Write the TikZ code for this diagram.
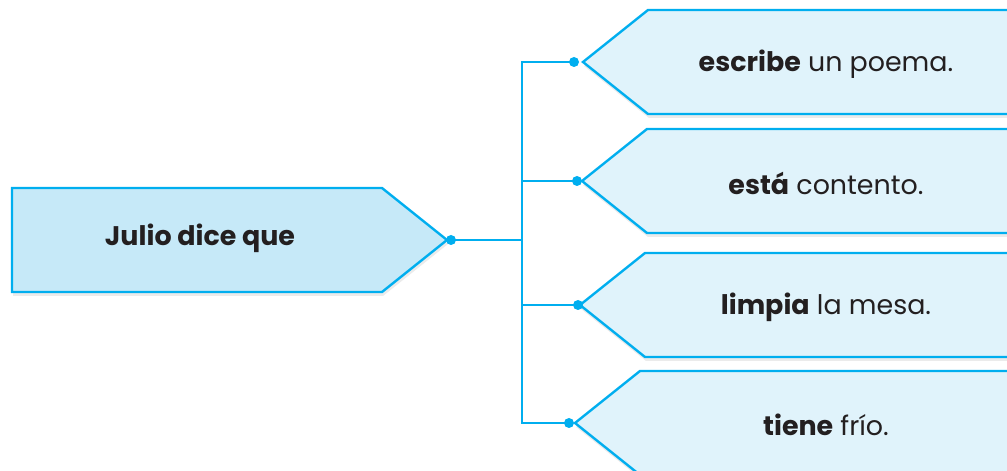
\documentclass[tikz,border=0pt]{standalone}
\usepackage{fontspec}
\setmainfont{Poppins}
\usetikzlibrary{shadows}
\definecolor{cian}{HTML}{00AEEF}
\definecolor{azulA}{HTML}{C6E9F8}
\definecolor{azulB}{HTML}{E0F3FB}
\definecolor{tinta}{HTML}{231F20}

\begin{document}
\begin{tikzpicture}[x=1bp,y=-1bp,line join=miter,
    caja/.style={draw=cian,line width=2.4bp,
      drop shadow={shadow xshift=1bp,shadow yshift=-4bp,opacity=.16}},
    rama/.style={draw=cian,line width=2.4bp},
    punto/.style={circle,fill=cian,inner sep=0pt,minimum size=10bp},
    texto/.style={text=tinta,font=\fontsize{27}{31}\selectfont}]
    \useasboundingbox (0,0) rectangle (1007,471);
    \clip (0,0) rectangle (1007,471);
    % caja de la izquierda
    \filldraw[caja,fill=azulA](12,188)--(382,188)--(447,240)--(382,292)--(12,292)--cycle;
    \node[texto] (julio) at (200,238) {\textbf{Julio dice que}};
    \node[punto] (p0) at (451,240) {};
    \coordinate (eje) at (522,240);
    % cajas de la derecha
    \foreach \n/\x/\y/\t in {1/583/62/{\textbf{escribe} un poema.},
                             2/582/181/{\textbf{está} contento.},
                             3/580/305/{\textbf{limpia} la mesa.},
                             4/575/423/{\textbf{tiene} frío.}}{
       \filldraw[caja,fill=azulB](\x,\y)--(\x+65,\y-52)--(1030,\y-52)--(1030,\y+52)--(\x+65,\y+52)--cycle;
       \node[texto] (t\n) at (826,\y+2) {\t};
    }
    \node[punto] (p1) at (574,62) {};
    \node[punto] (p2) at (577,181) {};
    \node[punto] (p3) at (578,305) {};
    \node[punto] (p4) at (569,423) {};
    % conectores
    \draw[rama] (p0.center) -- (eje);
    \foreach \n in {1,...,4}
       \draw[rama] (p\n.center) -| (eje);
\end{tikzpicture}
\end{document}
